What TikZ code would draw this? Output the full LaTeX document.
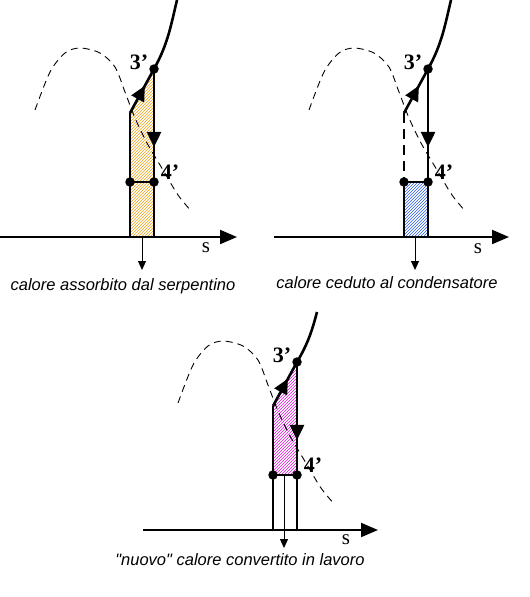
\documentclass[tikz,border=0pt]{standalone}
\usepackage{fontspec}
\setmainfont{Liberation Serif}
\setsansfont{Liberation Sans}[Ligatures=TeXOff]
\usetikzlibrary{arrows.meta,patterns,decorations.markings}

\definecolor{hatchorange}{RGB}{240,160,20}
\definecolor{hatchblue}{RGB}{40,90,230}
\definecolor{hatchpink}{RGB}{220,20,220}

\begin{document}
\begin{tikzpicture}[x=1pt,y=-1pt,
  outline/.style={line width=2.6pt},
  dome/.style={line width=0.9pt,dash pattern=on 7pt off 5pt},
  axis/.style={line width=2pt,-{Triangle[length=17pt,width=14pt]}},
  drop/.style={line width=1pt,-{Triangle[length=9pt,width=8pt]}},
  point/.style={circle,fill,inner sep=0pt,minimum size=9.5pt},
  tag/.style={font=\fontsize{22}{24}\selectfont\bfseries},
  axlabel/.style={font=\fontsize{21}{24}\selectfont},
  caption/.style={anchor=base,font=\sffamily\itshape\fontsize{16.5}{20}\selectfont},
  uparrow/.style={postaction={decorate},decoration={markings,
    mark=at position 0.62 with {\arrow{Triangle[length=15pt,width=14pt]}}}},
  downarrow/.style={postaction={decorate},decoration={markings,
    mark=at position 0.69 with {\arrow{Triangle[length=15pt,width=14pt]}}}}
]
\useasboundingbox (0,0) rectangle (530,597);

% calore assorbito dal serpentino
\begin{scope}[shift={(130,237)}]
\coordinate (O1) at (0,0);
\coordinate (L1) at (0,-124);
\coordinate (T1) at (24,-168);
\coordinate (R1) at (24,-55);
\coordinate (M1) at (0,-55);
\coordinate (Q1) at (24,0);
\coordinate (V1) at (47,-237);
\coordinate (W1) at (-130,0);
\coordinate (E1) at (107,0);
\coordinate (H1) at (12,0);
\coordinate (K1) at (12,33);

\fill[pattern=north east lines,pattern color=hatchorange]
(O1)--(L1)--(T1)--(Q1)--cycle;

\draw[dome] plot[smooth] coordinates {(-95,-127) (-80,-165) (-65,-184)
(-50,-189) (-30,-184) (-15,-170) (-5,-145) (5,-119) (17,-94) (33,-67)
(48,-42) (62,-25)};

\draw[axis] (W1)--(E1);
\draw[outline] (O1)--(L1);
\draw[outline,uparrow] (L1)--(T1);
\draw[outline,downarrow] (T1)--(R1);
\draw[outline] (R1)--(Q1);
\draw[outline] (M1)--(R1);
\draw[outline] (T1) .. controls (38,-193) and (41,-212) .. (V1);
\draw[drop] (H1)--(K1);

\node[point] (m1) at (M1) {};
\node[point] (r1) at (R1) {};
\node[point] (t1) at (T1) {};
\node[tag] (n3a) at (9,-175) {3’};
\node[tag] (n4a) at (40,-65) {4’};
\node[axlabel] (s1) at (76,11) {s};
\node[caption] (c1) at (-7,53) {calore assorbito dal serpentino};
\end{scope}

% calore ceduto al condensatore
\begin{scope}[shift={(404,237)}]
\coordinate (O2) at (0,0);
\coordinate (L2) at (0,-124);
\coordinate (T2) at (24,-168);
\coordinate (R2) at (24,-55);
\coordinate (M2) at (0,-55);
\coordinate (Q2) at (24,0);
\coordinate (V2) at (47,-237);
\coordinate (W2) at (-130,0);
\coordinate (E2) at (105,0);
\coordinate (H2) at (11,0);
\coordinate (K2) at (11,33);

\fill[pattern=north east lines,pattern color=hatchblue]
(O2)--(M2)--(R2)--(Q2)--cycle;

\draw[dome] plot[smooth] coordinates {(-95,-127) (-80,-165) (-65,-184)
(-50,-189) (-30,-184) (-15,-170) (-5,-145) (5,-119) (17,-94) (33,-67)
(48,-42) (62,-25)};

\draw[axis] (W2)--(E2);
\draw[outline,dash pattern=on 10pt off 6pt] (L2)--(M2);
\draw[outline] (O2)--(M2);
\draw[outline,uparrow] (L2)--(T2);
\draw[outline,downarrow] (T2)--(R2);
\draw[outline] (R2)--(Q2);
\draw[outline] (M2)--(R2);
\draw[outline] (T2) .. controls (38,-193) and (41,-212) .. (V2);
\draw[drop] (H2)--(K2);

\node[point] (m2) at (M2) {};
\node[point] (r2) at (R2) {};
\node[point] (t2) at (T2) {};
\node[tag] (n3b) at (9,-175) {3’};
\node[tag] (n4b) at (40,-65) {4’};
\node[axlabel] (s2) at (74,12) {s};
\node[caption] (c2) at (-17,51) {calore ceduto al condensatore};
\end{scope}

% "nuovo" calore convertito in lavoro
\begin{scope}[shift={(273,530)}]
\coordinate (O3) at (0,0);
\coordinate (L3) at (0,-124);
\coordinate (T3) at (24,-168);
\coordinate (R3) at (24,-55);
\coordinate (M3) at (0,-55);
\coordinate (Q3) at (24,0);
\coordinate (V3) at (44,-218);
\coordinate (W3) at (-130,0);
\coordinate (E3) at (105,0);
\coordinate (H3) at (11,-55);
\coordinate (K3) at (11,18);

\fill[pattern=north east lines,pattern color=hatchpink]
(M3)--(L3)--(T3)--(R3)--cycle;

\draw[dome] plot[smooth] coordinates {(-95,-127) (-80,-165) (-65,-184)
(-50,-189) (-30,-184) (-15,-170) (-5,-145) (5,-119) (17,-94) (33,-67)
(48,-42) (62,-25)};

\draw[axis] (W3)--(E3);
\draw[outline] (O3)--(L3);
\draw[outline,uparrow] (L3)--(T3);
\draw[outline,downarrow] (T3)--(R3);
\draw[outline] (R3)--(Q3);
\draw[outline] (M3)--(R3);
\draw[outline] (T3) .. controls (36,-188) and (40,-203) .. (V3);
\draw[drop] (H3)--(K3);

\node[point] (m3) at (M3) {};
\node[point] (r3) at (R3) {};
\node[point] (t3) at (T3) {};
\node[tag] (n3c) at (9,-175) {3’};
\node[tag] (n4c) at (40,-65) {4’};
\node[axlabel] (s3) at (73,10) {s};
\node[caption] (c3) at (-33,35) {"nuovo" calore convertito in lavoro};
\end{scope}
\end{tikzpicture}
\end{document}
